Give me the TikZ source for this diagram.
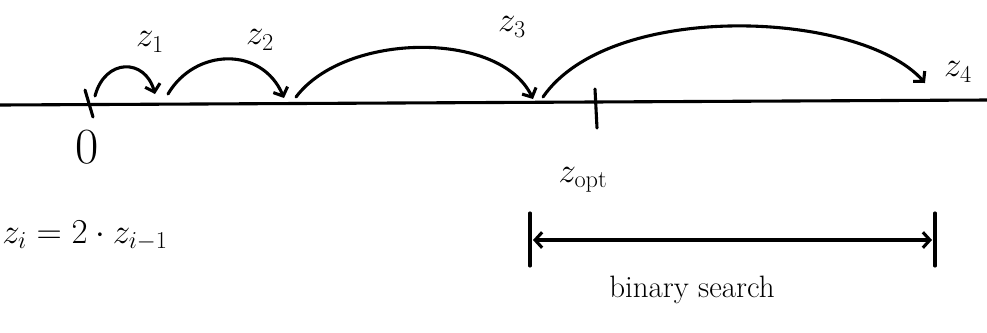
\documentclass[tikz,border=0pt]{standalone}
\usetikzlibrary{arrows.meta}
\begin{document}
\begin{tikzpicture}[x=0.025cm,y=-0.025cm,line width=2.2pt,line cap=round,
    >={Straight Barb[length=5pt,width=11pt]},
    hop/.style={->},
    lbl/.style={font=\fontsize{26}{30}\selectfont,inner sep=0pt},
    txt/.style={font=\fontsize{22}{26}\selectfont,inner sep=0pt}]
    \useasboundingbox (0,0) rectangle (987,332);
    % Axis
    \coordinate (axl) at (0,105);
    \coordinate (axr) at (987,100);
    \draw (axl) -- (axr);

    % Points on the axis
    \coordinate (pzero) at (95,96);
    \coordinate (pone) at (155,94);
    \coordinate (ponestart) at (168,94);
    \coordinate (ptwo) at (284,98);
    \coordinate (ptwostart) at (296,97);
    \coordinate (pthree) at (533,99);
    \coordinate (pthreestart) at (543,97);
    \coordinate (pfour) at (925,83);

    % Ticks
    \coordinate (tzeroa) at (85,90);
    \coordinate (tzerob) at (93,117);
    \coordinate (topta) at (595,89);
    \coordinate (toptb) at (597,128);
    \draw (tzeroa) -- (tzerob);
    \draw (topta) -- (toptb);

    % Hops
    \draw[hop] (pzero) .. controls (105,58) and (145,58) .. (pone);
    \draw[hop] (ponestart) .. controls (195,48) and (262,46) .. (ptwo);
    \draw[hop] (ptwostart) .. controls (345,32) and (500,30) .. (pthree);
    \draw[hop] (pthreestart) .. controls (610,0) and (860,10) .. (pfour);

    % Labels
    \node[lbl] (zero) at (87,147) {\fontsize{36}{40}\selectfont 0};
    \node[lbl] (zone) at (150,42) {$z_1$};
    \node[lbl] (ztwo) at (260,40) {$z_2$};
    \node[lbl] (zthree) at (512,27) {$z_3$};
    \node[lbl] (zfour) at (958,72) {$z_4$};
    \node[lbl] (rule) at (85,236) {$z_i = 2\cdot z_{i-1}$};
    \node[lbl] (zopt) at (583,180) {$z_{\mathrm{opt}}$};

    % Binary search range
    \coordinate (bsla) at (530,213);
    \coordinate (bslb) at (530,266);
    \coordinate (bsra) at (935,213);
    \coordinate (bsrb) at (935,266);
    \draw (bsla) -- (bslb);
    \draw (bsra) -- (bsrb);
    \coordinate (bsl) at (533,240);
    \coordinate (bsr) at (932,240);
    \draw[<->] (bsl) -- (bsr);
    \node[txt] (search) at (692,290) {binary search};
\end{tikzpicture}
\end{document}
